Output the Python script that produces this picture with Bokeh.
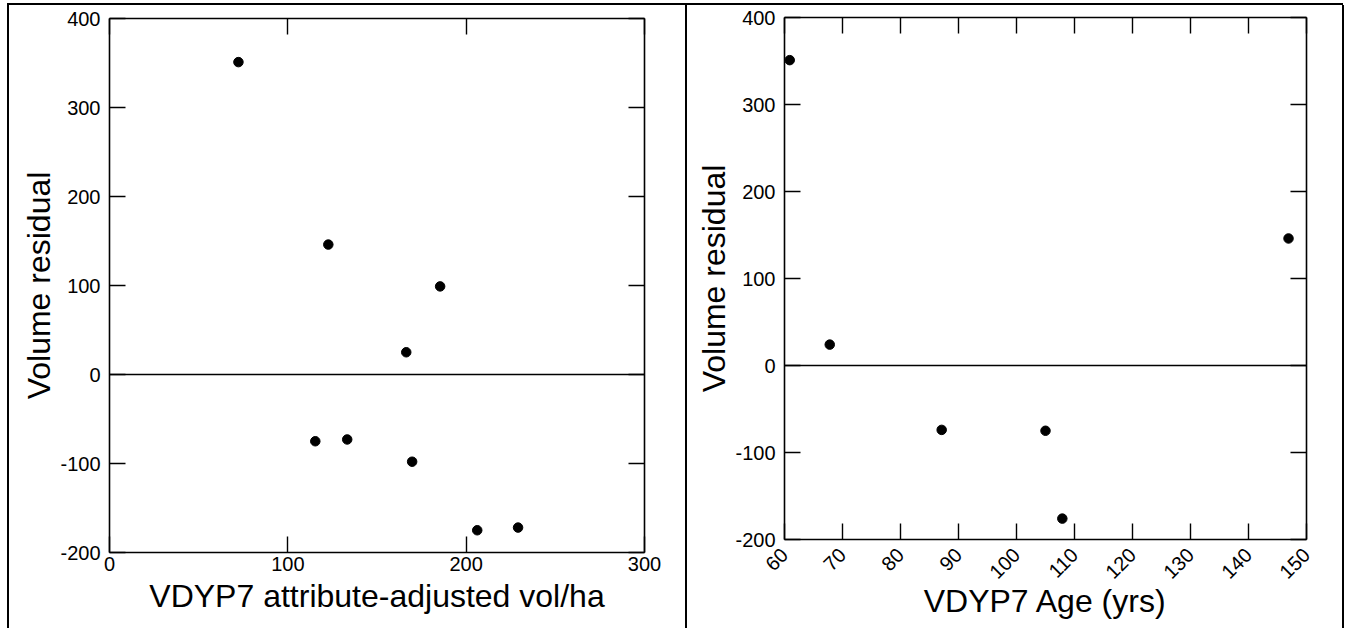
from math import pi
from bokeh.plotting import figure
from bokeh.models import (LinearAxis, Range1d, Span, FixedTicker, Div, Spacer,
                          PrintfTickFormatter, CustomJSTickFormatter)
from bokeh.layouts import row, column
from bokeh.embed import file_html
from bokeh.resources import INLINE

# ---- data ----
vol_x = [72.3, 122.7, 185.4, 166.4, 115.4, 133.3, 169.7, 206.2, 229.1]
vol_resid = [351, 146, 99, 25, -75, -73, -98, -175, -172]
age_x = [60.9, 67.8, 87.1, 105.0, 107.9, 146.9]
age_resid = [351, 24, -74, -75, -176, 146]
y_ticks = [-200, -100, 0, 100, 200, 300, 400]
vol_ticks = [0, 100, 200, 300]
age_ticks = [60, 70, 80, 90, 100, 110, 120, 130, 140, 150]
y_title = "Volume residual"
vol_title = "VDYP7 attribute-adjusted vol/ha"
age_title = "VDYP7 Age (yrs)"
caption = "varying age, respectively."

FONT = "Liberation Sans"
TICK_FS = "20px"
TITLE_FS = "32px"


def style_axis(ax, ticks, show_labels=True):
    ax.ticker = FixedTicker(ticks=ticks)
    ax.major_tick_in = 16
    ax.major_tick_out = 0
    ax.minor_tick_line_color = None
    ax.axis_line_color = "black"
    ax.axis_line_width = 1.6
    ax.major_tick_line_color = "black"
    ax.major_tick_line_width = 1.4
    ax.major_label_text_font = FONT
    ax.major_label_text_font_size = TICK_FS
    ax.major_label_text_color = "black"
    ax.axis_label_text_font = FONT
    ax.axis_label_text_font_size = TITLE_FS
    ax.axis_label_text_font_style = "normal"
    ax.axis_label_text_color = "black"
    ax.axis_label_standoff = 4
    if show_labels:
        ax.formatter = PrintfTickFormatter(format="%d")
    else:
        ax.formatter = CustomJSTickFormatter(code="return ''")
        ax.major_label_text_font_size = "1px"
        ax.major_label_text_color = None
        ax.major_label_standoff = 0


def make_panel(x, y, xr, xticks, xlabel, width, height, mb, rotate=False):
    p = figure(width=width, height=height, x_range=Range1d(*xr),
               y_range=Range1d(-200, 400), output_backend="svg",
               toolbar_location=None, min_border_left=mb[0],
               min_border_right=mb[1], min_border_top=mb[2],
               min_border_bottom=mb[3])
    p.grid.visible = False
    p.outline_line_color = None
    p.background_fill_color = "white"
    p.border_fill_color = "white"
    style_axis(p.xaxis[0], xticks)
    style_axis(p.yaxis[0], y_ticks)
    p.xaxis[0].axis_label = xlabel
    p.yaxis[0].axis_label = y_title
    p.yaxis[0].major_label_standoff = 9
    p.yaxis[0].axis_label_standoff = 0
    p.xaxis[0].major_label_standoff = 4
    if rotate:
        p.xaxis[0].major_label_orientation = pi / 4
        p.xaxis[0].major_label_standoff = 12
        p.xaxis[0].axis_label_standoff = -5
    top = LinearAxis(); style_axis(top, xticks, False)
    right = LinearAxis(); style_axis(right, y_ticks, False)
    p.add_layout(top, "above")
    p.add_layout(right, "right")
    p.add_layout(Span(location=0, dimension="width", line_color="black",
                      line_width=1.6))
    p.scatter(x, y, size=9.5, color="black")
    return p


H = 623
p1 = make_panel(vol_x, vol_resid, (0, 300), vol_ticks, vol_title,
                676, H, (100, 41, 13, 76))
p2 = make_panel(age_x, age_resid, (60, 150), age_ticks, age_title,
                655, H, (97, 36, 12, 89), rotate=True)


def vline():
    return Div(width=2, height=H, margin=0, styles={"background-color": "black"})


cap_html = ('<div style="position:relative;width:1350px;height:3px;overflow:hidden">'
            '<span style="position:absolute;left:352px;top:-22px;'
            "font-family:'Liberation Serif';font-size:24px;line-height:24px;"
            'white-space:nowrap;color:black">' + caption + '</span></div>')
cap = Div(text=cap_html, width=1350, height=3, margin=0,
          styles={"overflow": "hidden"})
topline = Div(width=1336, height=2, margin=(0, 0, 0, 7),
              styles={"background-color": "black"})

layout = column(cap, topline,
                row(Spacer(width=7, height=H, margin=0), vline(), column(p1),
                    vline(), column(p2), vline(), spacing=0),
                spacing=0)

open("out.html", "w").write(file_html(layout, INLINE))
